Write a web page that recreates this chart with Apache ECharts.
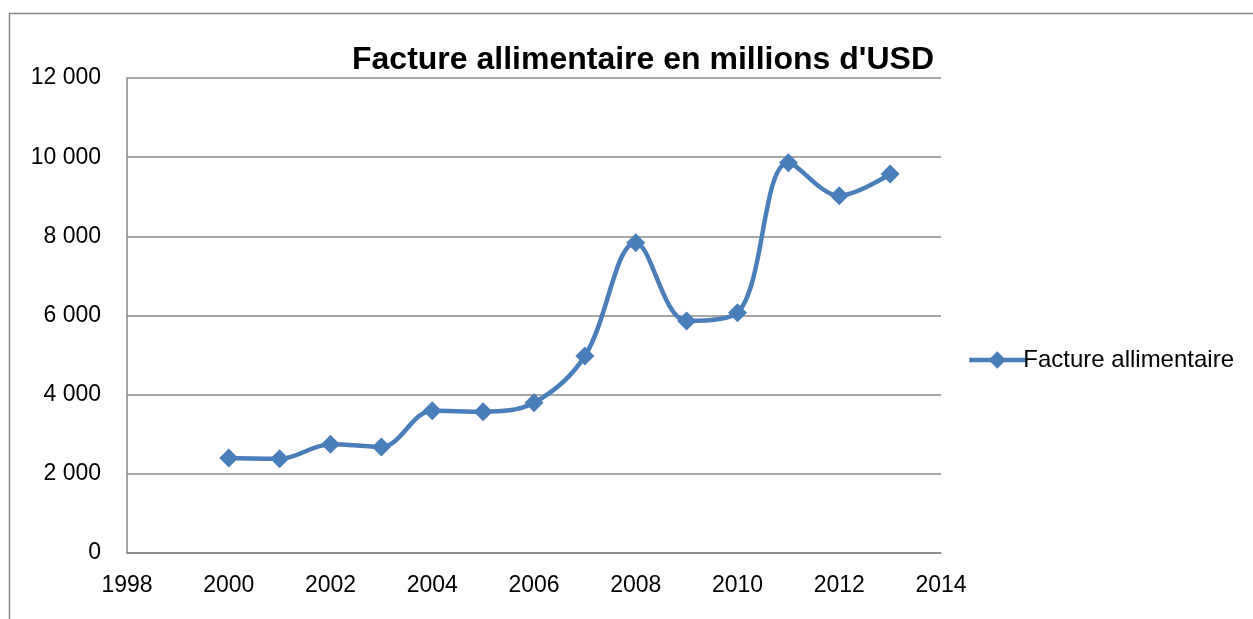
<!DOCTYPE html>
<html>
<head>
<meta charset="utf-8">
<script src="https://cdn.jsdelivr.net/npm/echarts@6/dist/echarts.min.js"></script>
<style>
  html, body { margin: 0; padding: 0; background: #fff; }
  #main { width: 1253px; height: 619px; }
</style>
</head>
<body>
<div id="main"></div>
<script>
// données
var annees = [2000, 2001, 2002, 2003, 2004, 2005, 2006, 2007, 2008, 2009, 2010, 2011, 2012, 2013];
var facture = [2400, 2380, 2750, 2680, 3595, 3570, 3797, 4977, 7840, 5861, 6071, 9861, 9027, 9575];
var nomSerie = 'Facture allimentaire';

var points = [];
for (let i = 0; i < annees.length; i++) {
    points.push([annees[i], facture[i]]);
}

var myChart = echarts.init(document.getElementById('main'));

function milliers(v) {
    return String(v).replace(/\B(?=(\d{3})+(?!\d))/g, ' ');
}

var option = {
    animation: false,
    textStyle: { fontFamily: 'Liberation Sans', color: '#000' },
    title: {
        text: "Facture allimentaire en millions d'USD",
        left: 638,
        textAlign: 'center',
        top: 39,
        textStyle: { fontSize: 32, fontWeight: 'bold', color: '#000', fontFamily: 'Liberation Sans' }
    },
    graphic: [{
        type: 'rect',
        shape: { x: 9.5, y: 13.5, width: 1260, height: 620 },
        style: { fill: 'none', stroke: '#888', lineWidth: 1.5 },
        silent: true
    }],
    legend: {
        left: 962,
        top: 343,
        orient: 'vertical',
        itemWidth: 56,
        itemHeight: 22,
        itemGap: 4,
        textStyle: { fontSize: 24, color: '#000', padding: [0, 0, 0, -7] },
        lineStyle: { width: 4.5 },
        data: [nomSerie]
    },
    grid: { left: 127, top: 78, width: 814, height: 475 },
    xAxis: {
        type: 'value',
        min: 1998,
        max: 2014,
        interval: 2,
        axisLine: { show: true, lineStyle: { color: '#888', width: 1.5 } },
        axisTick: { show: false },
        splitLine: { show: false },
        axisLabel: { fontSize: 23, color: '#000', margin: 21, formatter: function (v) { return String(v); } }
    },
    yAxis: {
        type: 'value',
        min: 0,
        max: 12000,
        interval: 2000,
        axisLine: { show: true, lineStyle: { color: '#888', width: 1.5 } },
        axisTick: { show: false },
        splitLine: { show: true, lineStyle: { color: '#888', width: 1.5 } },
        axisLabel: { fontSize: 23, color: '#000', margin: 26, formatter: milliers }
    },
    series: [{
        name: nomSerie,
        type: 'line',
        data: points,
        smooth: 0.35,
        symbol: 'diamond',
        symbolSize: 19,
        color: '#4a7ebb',
        lineStyle: { width: 4.5, color: '#4a7ebb' },
        itemStyle: { color: '#4a7ebb' }
    }]
};

myChart.setOption(option);
</script>
</body>
</html>
